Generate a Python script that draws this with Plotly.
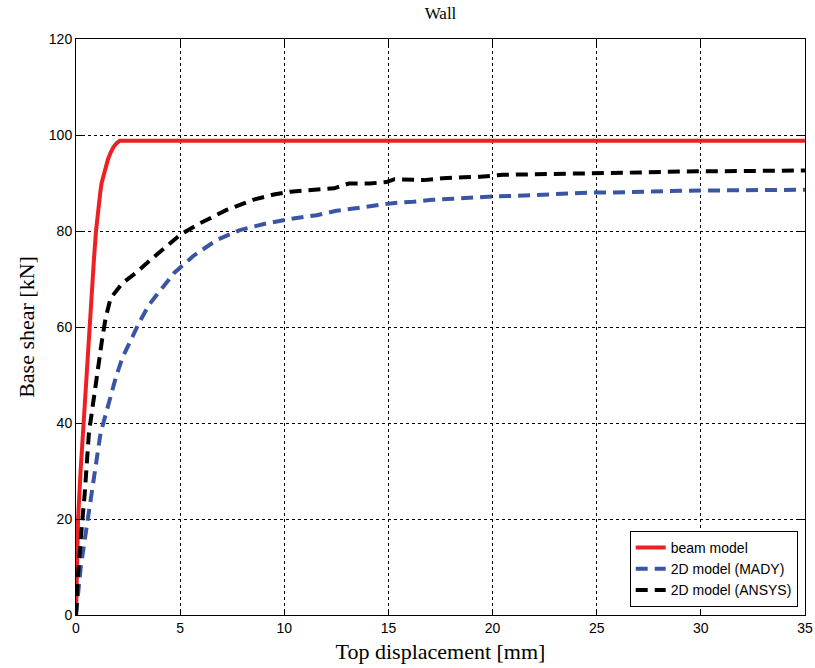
import plotly.graph_objects as go

beam_x = [0, 0.02, 0.1, 0.22, 0.35, 0.47, 0.62, 0.75, 0.86, 0.96, 1.03, 1.1, 1.17, 1.23, 1.32,
          1.4, 1.54, 1.67, 1.8, 1.95, 2.1, 35]
beam_y = [0, 5, 20, 30, 39, 48, 60, 68, 74, 80, 83.5, 86, 88.2, 90, 91.7,
          93, 95, 96.4, 97.5, 98.3, 98.8, 98.8]

mady_x = [0, 0.13, 0.22, 0.36, 0.5, 0.63, 0.78, 0.94, 1.06, 1.18, 1.42, 1.66, 1.9, 2.22,
          2.62, 3.02, 3.5, 4.14, 4.7, 5.63, 6.75, 7.87, 9.15, 10.3, 11.55, 12.5, 13.47,
          14.43, 15.2, 16.2, 17.1, 18.1, 19.1, 20, 21, 21.9, 22.75, 23.9, 24.7, 25.6, 26.7,
          27.5, 29.3, 31.2, 32.2, 34.1, 35]
mady_y = [0, 5.9, 9.7, 13.9, 17.9, 21.7, 25.7, 29.9, 33.7, 37.9, 41.7, 45.8, 49.3, 53.5,
          57.3, 60.8, 64.6, 68, 71.2, 74.8, 78.1, 80.2, 81.6, 82.5, 83.3, 84.2, 84.7,
          85.2, 85.8, 86.1, 86.5, 86.7, 87, 87.2, 87.3, 87.5, 87.7, 87.8, 88, 88, 88.2,
          88.2, 88.4, 88.4, 88.5, 88.5, 88.6]

ansys_x = [0, 0.1, 0.25, 0.42, 0.62, 0.86, 1.1, 1.26, 1.42, 1.66, 2.22, 2.94, 3.58,
           4.5, 5.0, 5.95, 7.23, 8.5, 9.5, 10.3, 11.5, 12.4, 13.1, 14.1, 14.9, 15.3, 16.7,
           17.6, 18.6, 19.4, 20.5, 22.3, 23.2, 25.2, 27.1, 29, 30.9, 32.7, 35]
ansys_y = [0, 8.5, 17, 25.4, 37.9, 45.8, 53.8, 57.6, 61.8, 66, 69.1, 71.5, 74,
           77.5, 79.2, 81.6, 84.4, 86.5, 87.6, 88.2, 88.6, 88.9, 89.9, 89.9, 90.2, 90.8, 90.6,
           91, 91.2, 91.3, 91.7, 91.8, 91.9, 92, 92.2, 92.4, 92.4, 92.6, 92.6]

x_ticks = [0, 5, 10, 15, 20, 25, 30, 35]
y_ticks = [0, 20, 40, 60, 80, 100, 120]

fig = go.Figure()
fig.add_trace(go.Scatter(x=beam_x, y=beam_y, mode="lines", name="beam model",
                         line=dict(color="#ee2024", width=4)))
fig.add_trace(go.Scatter(x=mady_x, y=mady_y, mode="lines", name="2D model (MADY)",
                         line=dict(color="#3b55a5", width=4, dash="12px,7px")))
fig.add_trace(go.Scatter(x=ansys_x, y=ansys_y, mode="lines", name="2D model (ANSYS)",
                         line=dict(color="#000000", width=4, dash="12px,7px")))

axis_common = dict(
    showline=True, linecolor="black", linewidth=1, mirror="ticks",
    ticks="inside", ticklen=6, tickcolor="black",
    showgrid=True, gridcolor="black", gridwidth=1, griddash="dot",
    zeroline=False, automargin=False,
    tickfont=dict(family="Liberation Sans", size=14, color="black"),
)

fig.update_xaxes(range=[0, 35], tickvals=x_ticks,
                 title=dict(text="Top displacement [mm]", standoff=8,
                            font=dict(family="Liberation Serif", size=22, color="black")),
                 **axis_common)
fig.update_yaxes(range=[0, 120], tickvals=y_ticks,
                 title=dict(text="Base shear [kN]", standoff=8,
                            font=dict(family="Liberation Serif", size=22, color="black")),
                 **axis_common)

fig.update_layout(
    width=815, height=668,
    margin=dict(l=76, r=10, t=39, b=53),
    paper_bgcolor="white", plot_bgcolor="white",
    title=dict(text="Wall", x=(76 + 805) / 2 / 815, xanchor="center", y=0.98, yanchor="middle",
               font=dict(family="Liberation Serif", size=17, color="black")),
    legend=dict(x=0.99, xanchor="right", y=0.014, yanchor="bottom",
                bgcolor="white", bordercolor="black", borderwidth=1,
                font=dict(family="Liberation Sans", size=14, color="black"),
                tracegroupgap=0, itemwidth=30),
    showlegend=True,
)

fig.write_html("out.html")
